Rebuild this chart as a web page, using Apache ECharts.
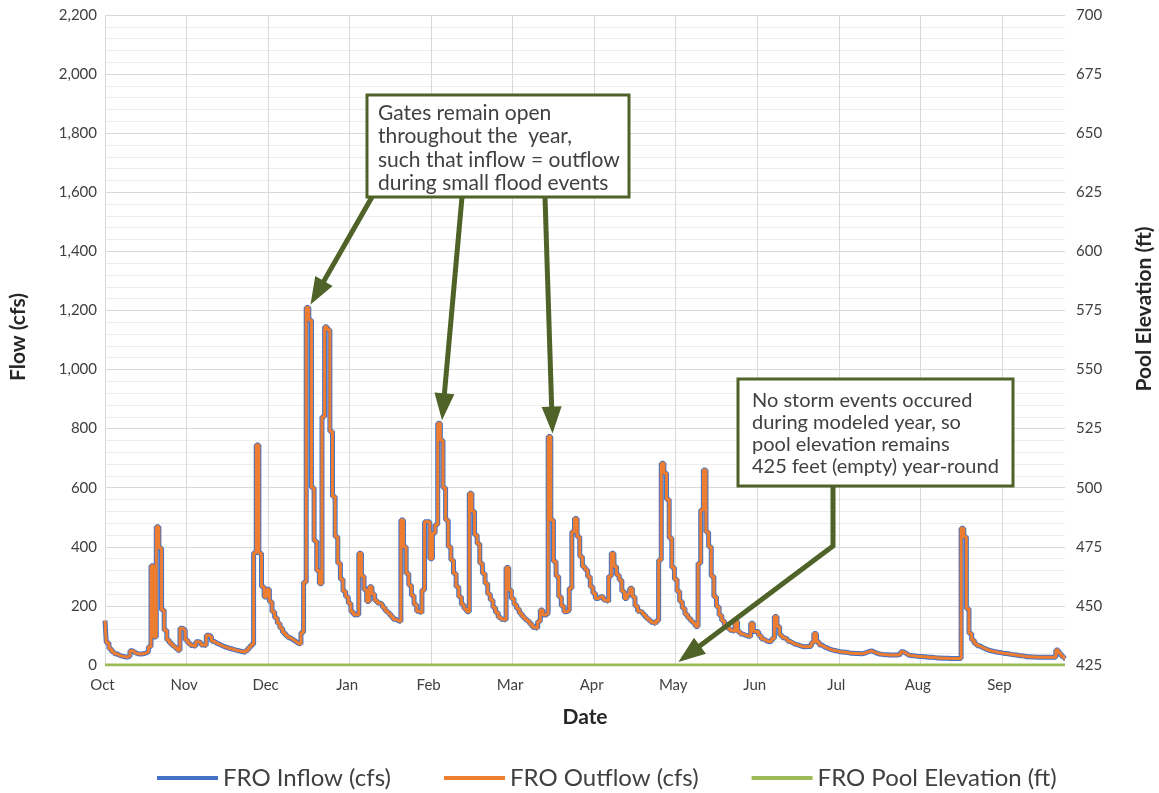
<!DOCTYPE html>
<html>
<head>
<meta charset="utf-8">
<script src="https://cdn.jsdelivr.net/npm/echarts@6/dist/echarts.min.js"></script>
<style>
html,body{margin:0;padding:0;background:#fff;overflow:hidden;}
#chart{width:1159px;height:793px;}
</style>
</head>
<body>
<div id="chart"></div>
<script>
// ---- data ----
const monthLabels = ['Oct','Nov','Dec','Jan','Feb','Mar','Apr','May','Jun','Jul','Aug','Sep'];
const flowTicks = [0,200,400,600,800,1000,1200,1400,1600,1800,2000,2200];
const elevTicks = [425,450,475,500,525,550,575,600,625,650,675,700];

// daily dates of the water year Oct 2019 - Sep 2020 (categories)
const dates = [];
(function(){
  const t0 = Date.UTC(2019, 9, 1);
  for (let i = 0; i < 366; i++) {
    const d = new Date(t0 + i * 86400000);
    dates.push(d.toISOString().slice(0, 10));
  }
})();

const inflowCfs = [
150,75,55,45,38,33,30,28,27,30,
48,42,38,37,38,40,45,62,336,95,
468,396,186,118,85,74,65,58,50,124,
118,85,74,66,63,79,76,68,66,101,
95,80,74,70,66,62,59,56,54,51,
49,47,45,43,50,60,69,380,745,378,
265,230,256,214,180,160,141,125,110,100,
92,86,80,74,70,110,280,1210,1168,600,
420,320,275,840,1145,1135,790,570,434,344,
290,250,231,209,180,170,170,378,300,255,
215,265,240,218,210,205,195,183,175,165,
155,150,147,491,400,310,270,235,205,182,
176,254,485,485,360,446,475,818,761,600,
491,400,355,310,265,231,205,190,180,581,
520,440,410,344,310,276,240,220,195,178,
162,155,152,330,254,225,205,190,175,164,
155,148,138,128,124,147,186,169,175,773,
491,350,300,231,200,180,185,260,451,496,
434,367,333,322,299,265,243,225,231,231,
220,214,300,378,333,305,288,250,225,240,
260,231,200,182,178,170,160,152,145,139,
150,355,683,650,560,430,330,290,250,215,
192,172,160,150,141,130,344,525,660,450,
400,300,231,197,168,150,135,125,118,113,
147,113,105,101,98,96,141,113,113,100,
88,82,79,80,90,164,130,101,92,87,
80,75,70,68,65,62,62,63,63,75,
107,79,68,62,58,54,51,49,47,45,
44,43,42,40,40,39,39,38,39,42,
46,48,44,40,37,36,35,35,34,34,
34,34,37,45,40,34,32,31,30,29,
29,28,27,26,26,25,24,24,23,23,
23,22,22,22,22,22,463,434,190,107,
85,72,65,60,56,52,49,47,45,43,
42,40,39,38,36,35,34,32,31,30,
28,28,27,27,26,26,26,26,26,26,
26,26,51,40,30,23
];

const outflowCfs = [
150,75,55,45,38,33,30,28,27,30,
48,42,38,37,38,40,45,62,336,95,
468,396,186,118,85,74,65,58,50,124,
118,85,74,66,63,79,76,68,66,101,
95,80,74,70,66,62,59,56,54,51,
49,47,45,43,50,60,69,380,745,378,
265,230,256,214,180,160,141,125,110,100,
92,86,80,74,70,110,280,1210,1168,600,
420,320,275,840,1145,1135,790,570,434,344,
290,250,231,209,180,170,170,378,300,255,
215,265,240,218,210,205,195,183,175,165,
155,150,147,491,400,310,270,235,205,182,
176,254,485,485,360,446,475,818,761,600,
491,400,355,310,265,231,205,190,180,581,
520,440,410,344,310,276,240,220,195,178,
162,155,152,330,254,225,205,190,175,164,
155,148,138,128,124,147,186,169,175,773,
491,350,300,231,200,180,185,260,451,496,
434,367,333,322,299,265,243,225,231,231,
220,214,300,378,333,305,288,250,225,240,
260,231,200,182,178,170,160,152,145,139,
150,355,683,650,560,430,330,290,250,215,
192,172,160,150,141,130,344,525,660,450,
400,300,231,197,168,150,135,125,118,113,
147,113,105,101,98,96,141,113,113,100,
88,82,79,80,90,164,130,101,92,87,
80,75,70,68,65,62,62,63,63,75,
107,79,68,62,58,54,51,49,47,45,
44,43,42,40,40,39,39,38,39,42,
46,48,44,40,37,36,35,35,34,34,
34,34,37,45,40,34,32,31,30,29,
29,28,27,26,26,25,24,24,23,23,
23,22,22,22,22,22,463,434,190,107,
85,72,65,60,56,52,49,47,45,43,
42,40,39,38,36,35,34,32,31,30,
28,28,27,27,26,26,26,26,26,26,
26,26,51,40,30,23
];

// pool elevation stays at 425 ft for the whole year (first and last day)
const poolElevationFt = [[0, 425], [365, 425]];

// annotation text
const noteGates = ['Gates remain open', 'throughout the  year,', 'such that inflow = outflow', 'during small flood events'];
const noteStorm = ['No storm events occured', 'during modeled year, so', 'pool elevation remains', '425 feet (empty) year-round'];
// annotated points: [day index, value]
const gatePeaks = [[77, 1210], [127, 818], [169, 773]];
const poolPoint = [218, 425];

// ---- chart ----
const FONT = 'Lato';
const chart = echarts.init(document.getElementById('chart'), null, {renderer: 'canvas', width: 1159, height: 793});
const axisTxt = {color: '#404040', fontFamily: FONT, fontSize: 15};
const titleTxt = {fontFamily: FONT, fontSize: 21, fontWeight: 'bold', color: '#262626'};
const green = '#4F6228';

chart.setOption({
  animation: false,
  backgroundColor: '#fff',
  grid: {left: 105, right: 94, top: 15, bottom: 128, containLabel: false, outerBoundsMode: 'none'},
  legend: {
    left: 157, top: 766, padding: 0,
    itemWidth: 61, itemHeight: 4, itemGap: 53,
    icon: 'rect',
    textStyle: {fontFamily: FONT, fontSize: 24, color: '#404040'},
    data: ['FRO Inflow (cfs)', 'FRO Outflow (cfs)', 'FRO Pool Elevation (ft)']
  },
  xAxis: {
    type: 'category',
    data: dates,
    boundaryGap: false,
    name: 'Date',
    nameLocation: 'middle',
    nameGap: 42,
    nameTextStyle: titleTxt,
    axisLine: {show: false},
    axisTick: {show: false},
    axisLabel: Object.assign({
      interval: 30, margin: 13, padding: [0, 5, 0, 0],
      formatter: function (v, i) { return monthLabels[Math.round(i / 31)]; }
    }, axisTxt),
    splitLine: {show: true, interval: 30, lineStyle: {color: '#D9D9D9', width: 1}}
  },
  yAxis: [{
    type: 'value',
    min: flowTicks[0], max: flowTicks[flowTicks.length - 1], interval: 200,
    name: 'Flow (cfs)',
    nameLocation: 'middle', nameGap: 76, nameRotate: 90,
    nameTextStyle: Object.assign({padding: [0, 0, 0, 6]}, titleTxt),
    axisLine: {show: false}, axisTick: {show: false},
    axisLabel: Object.assign({margin: 8, formatter: function (v) { return v.toLocaleString('en-US'); }}, axisTxt),
    splitLine: {show: true, lineStyle: {color: '#D9D9D9', width: 1}},
    minorTick: {show: false, splitNumber: 5},
    minorSplitLine: {show: true, lineStyle: {color: '#EDEDED', width: 1}}
  }, {
    type: 'value',
    min: elevTicks[0], max: elevTicks[elevTicks.length - 1], interval: 25,
    name: 'Pool Elevation (ft)',
    nameLocation: 'middle', nameGap: 69, nameRotate: 90,
    nameTextStyle: Object.assign({padding: [0, 0, 0, 62]}, titleTxt),
    axisLine: {show: false}, axisTick: {show: false},
    axisLabel: Object.assign({margin: 11}, axisTxt),
    splitLine: {show: false}
  }],
  series: [{
    name: 'FRO Inflow (cfs)', type: 'line', data: inflowCfs,
    step: 'middle', showSymbol: false, symbol: 'none',
    color: '#4472C4',
    lineStyle: {color: '#4472C4', width: 5}, z: 2
  }, {
    name: 'FRO Outflow (cfs)', type: 'line', data: outflowCfs,
    step: 'middle', showSymbol: false, symbol: 'none',
    color: '#ED7D31',
    lineStyle: {color: '#ED7D31', width: 3}, z: 3
  }, {
    name: 'FRO Pool Elevation (ft)', type: 'line', yAxisIndex: 1, data: poolElevationFt,
    showSymbol: false, symbol: 'none',
    color: '#9BBB59',
    lineStyle: {color: '#9BBB59', width: 3}, z: 4
  }]
});

function arrowHead(p, t, len, half) {
  const dx = t[0] - p[0], dy = t[1] - p[1];
  const L = Math.sqrt(dx * dx + dy * dy);
  const ux = dx / L, uy = dy / L;
  const bx = t[0] - ux * len, by = t[1] - uy * len;
  return {
    base: [bx + ux * 2, by + uy * 2],
    pts: [[t[0], t[1]], [bx - uy * half, by + ux * half], [bx + uy * half, by - ux * half]]
  };
}
function arrow(points) {
  const n = points.length;
  const h = arrowHead(points[n - 2], points[n - 1], 27, 10);
  const shaft = points.slice(0, n - 1).concat([h.base]);
  return [
    {type: 'polyline', z: 100, shape: {points: shaft}, style: {stroke: green, lineWidth: 5, fill: null}},
    {type: 'polygon', z: 100, shape: {points: h.pts}, style: {fill: green}}
  ];
}

const box1 = {x: 367, y: 95, w: 262, h: 102};
const box2 = {x: 738, y: 379, w: 275, h: 107};
const tips = gatePeaks.map(function (pk) {
  const p = chart.convertToPixel({xAxisIndex: 0, yAxisIndex: 0}, pk);
  return [p[0] + 3, p[1] - 3];
});
const poolPx = chart.convertToPixel({xAxisIndex: 0, yAxisIndex: 1}, poolPoint);
const starts = [[372, 197], [462, 197], [545, 197]];

let els = [];
els = els.concat(arrow([starts[0], tips[0]]));
els = els.concat(arrow([starts[1], tips[1]]));
els = els.concat(arrow([starts[2], tips[2]]));
els = els.concat(arrow([[833, 486], [833, 546], [poolPx[0], poolPx[1] - 3]]));
els.push({type: 'rect', z: 101, shape: {x: box1.x, y: box1.y, width: box1.w, height: box1.h},
  style: {fill: '#fff', stroke: green, lineWidth: 3}});
els.push({type: 'text', z: 102, x: 378, y: 101,
  style: {text: noteGates.join('\n'), font: '21px ' + FONT, fill: '#404040', lineHeight: 23.5, verticalAlign: 'top'}});
els.push({type: 'rect', z: 101, shape: {x: box2.x, y: box2.y, width: box2.w, height: box2.h},
  style: {fill: '#fff', stroke: green, lineWidth: 3}});
els.push({type: 'text', z: 102, x: 752, y: 390,
  style: {text: noteStorm.join('\n'), font: '20px ' + FONT, fill: '#404040', lineHeight: 22, verticalAlign: 'top'}});

chart.setOption({graphic: {elements: els}});
</script>
</body>
</html>
